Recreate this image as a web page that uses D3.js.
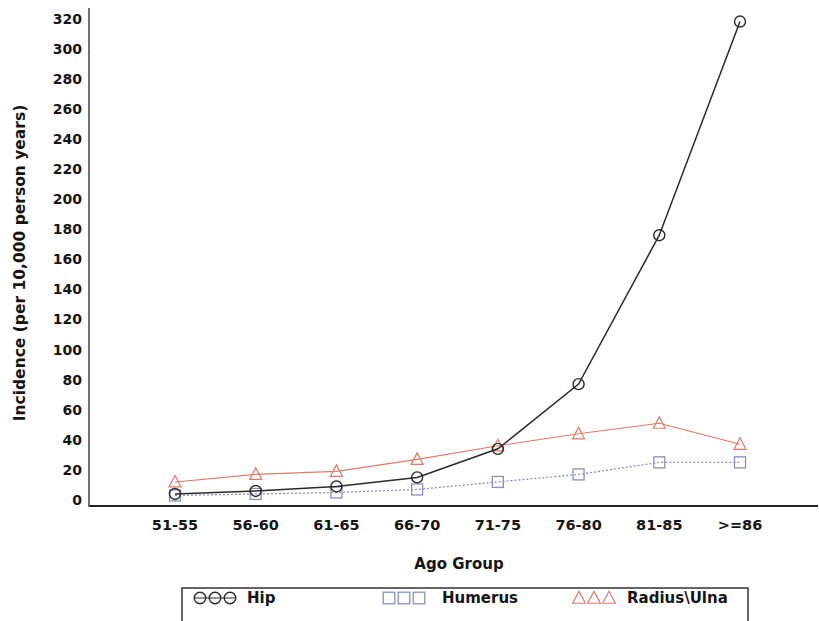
<!DOCTYPE html>
<html>
<head>
<meta charset="utf-8">
<script src="https://cdn.jsdelivr.net/npm/d3@7"></script>
<style>
  body { margin: 0; background: #fff; }
  text { font-family: "DejaVu Sans", "Liberation Sans", Arial, sans-serif; font-weight: bold; fill: #151515; }
</style>
</head>
<body>
<svg id="chart" width="819" height="621"></svg>
<script>
// data
const ageGroups = ["51-55", "56-60", "61-65", "66-70", "71-75", "76-80", "81-85", ">=86"];
const hip = [4, 6, 9, 15, 34, 77, 176, 318];
const humerus = [3, 4, 5, 7, 12, 17, 25, 25];
const radiusUlna = [12, 17, 19, 27, 36, 44, 51, 37];
const yTicks = [0, 20, 40, 60, 80, 100, 120, 140, 160, 180, 200, 220, 240, 260, 280, 300, 320];
const legendNames = ["Hip", "Humerus", "Radius\\Ulna"];

const svg = d3.select("#chart");
const plotLeft = 89, plotRight = 818, plotTop = 8, plotBottom = 506;

let x = d3.scalePoint().domain(ageGroups).range([175, 740]);
let y = d3.scaleLinear().domain([-4, 327]).range([plotBottom, plotTop]);

// axes
let xAxis = svg.append("g").attr("transform", "translate(0," + plotBottom + ")");
xAxis.append("line").attr("x1", plotLeft).attr("x2", plotRight)
    .attr("stroke", "#222").attr("stroke-width", 2);
xAxis.selectAll("text.tick").data(ageGroups).enter().append("text")
    .attr("x", d => x(d)).attr("y", 24)
    .attr("text-anchor", "middle").style("font-size", "14.5px")
    .text(d => d);

let yAxis = svg.append("g").attr("transform", "translate(" + plotLeft + ",0)")
    .call(d3.axisLeft(y).tickValues(yTicks).tickSize(0).tickPadding(7));
yAxis.select(".domain").remove();
yAxis.append("line").attr("y1", plotTop).attr("y2", plotBottom + 1)
    .attr("stroke", "#444").attr("stroke-width", 1.5);
yAxis.selectAll(".tick text")
    .style("font-family", "DejaVu Sans, Liberation Sans, Arial, sans-serif")
    .style("font-weight", "bold").style("font-size", "14px").attr("fill", "#151515");

svg.append("text")
    .attr("transform", "rotate(-90)")
    .attr("x", -263).attr("y", 25)
    .attr("text-anchor", "middle").style("font-size", "15.5px")
    .text("Incidence (per 10,000 person years)");

svg.append("text").attr("x", 459).attr("y", 569)
    .attr("text-anchor", "middle").style("font-size", "15px")
    .text("Ago Group");

const series = [
    {name: legendNames[0], values: hip, color: "#2a2a2a", dash: null, width: 1.5, shape: "circle"},
    {name: legendNames[1], values: humerus, color: "#8a8fc0", dash: "2,2", width: 1.3, shape: "square"},
    {name: legendNames[2], values: radiusUlna, color: "#e07a6a", dash: null, width: 1.1, shape: "triangle"}
];

function marker(g, shape, color, cx, cy, s){
    if(shape == "circle"){
        g.append("circle").attr("cx", cx).attr("cy", cy).attr("r", 5.5 * s)
            .attr("fill", "none").attr("stroke", color).attr("stroke-width", 1.4);
    }else if(shape == "square"){
        g.append("rect").attr("x", cx - 5.5 * s).attr("y", cy - 5.5 * s).attr("width", 11 * s).attr("height", 11 * s)
            .attr("fill", "none").attr("stroke", color).attr("stroke-width", 1.3);
    }else{
        g.append("path").attr("d", "M" + cx + "," + (cy - 6.5 * s) + "L" + (cx + 6 * s) + "," + (cy + 5 * s) + "L" + (cx - 6 * s) + "," + (cy + 5 * s) + "Z")
            .attr("fill", "none").attr("stroke", color).attr("stroke-width", 1.2);
    }
}

// draw radius first, then humerus, hip on top
[series[2], series[1], series[0]].forEach(function(s){
    let line = d3.line().x((d, i) => x(ageGroups[i])).y(d => y(d));
    svg.append("path").datum(s.values)
        .attr("d", line)
        .attr("fill", "none")
        .attr("stroke", s.color)
        .attr("stroke-width", s.width)
        .attr("stroke-dasharray", s.dash);
    let g = svg.append("g");
    s.values.forEach(function(v, i){
        marker(g, s.shape, s.color, x(ageGroups[i]), y(v), 1);
    });
});

// legend
let legend = svg.append("g");
legend.append("rect").attr("x", 182).attr("y", 588).attr("width", 566).attr("height", 45)
    .attr("fill", "#fff").attr("stroke", "#333").attr("stroke-width", 1.5);
let legendX = [200, 389, 579];
let textX = [247, 442, 627];
series.forEach(function(s, i){
    let g = legend.append("g");
    if(s.shape == "circle"){
        g.append("line").attr("x1", legendX[i] - 6).attr("x2", legendX[i] + 36).attr("y1", 598).attr("y2", 598)
            .attr("stroke", s.color).attr("stroke-width", 1.2);
    }
    for(let k = 0; k < 3; k++){
        marker(g, s.shape, s.color, legendX[i] + k * 15, 598, 1.05);
    }
    legend.append("text").attr("x", textX[i]).attr("y", 603).style("font-size", "15px").text(s.name);
});
</script>
</body>
</html>
